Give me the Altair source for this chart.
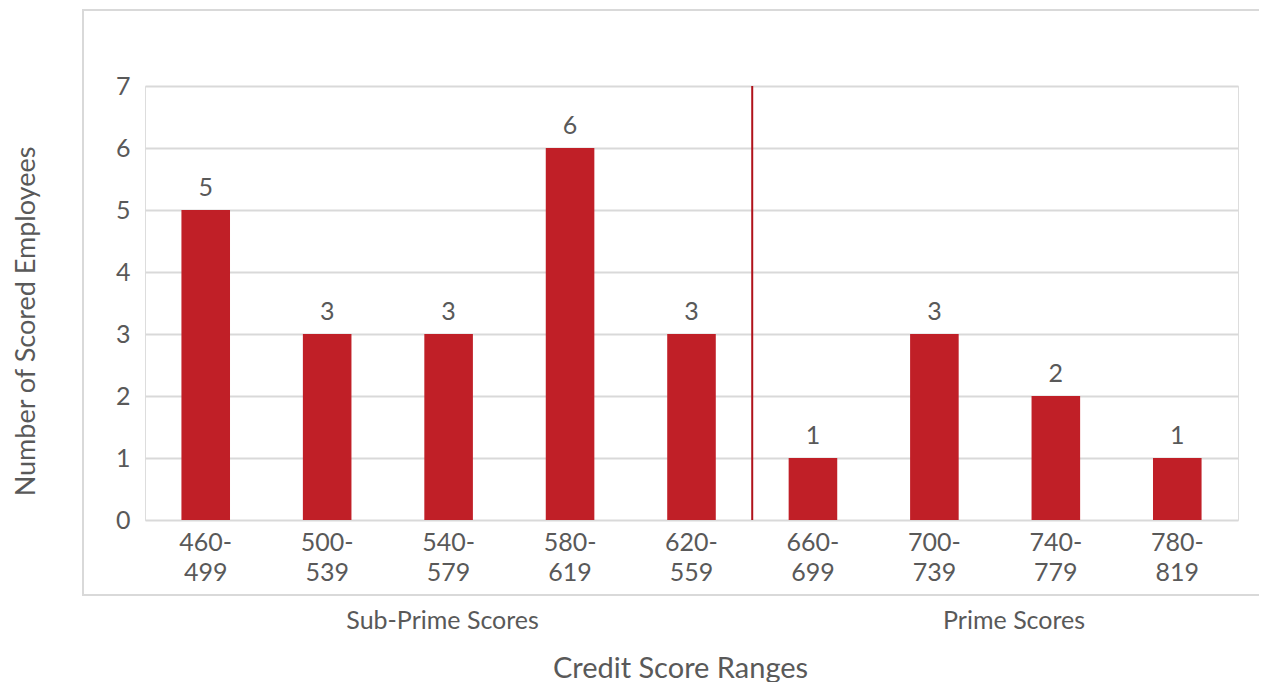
import altair as alt
import pandas as pd

ranges = ["460-499", "500-539", "540-579", "580-619", "620-559",
          "660-699", "700-739", "740-779", "780-819"]
counts = [5, 3, 3, 6, 3, 1, 3, 2, 1]
boundary = ["660-699"]
groups = ["Sub-Prime Scores", "Prime Scores"]
group_anchor = ["540-579", "740-779"]

df = pd.DataFrame({"range": ranges, "count": counts})
df_rule = pd.DataFrame({"range": boundary})

FONT = "Lato"
TXT = "#595959"
RED = "#C01F27"
FRAME = "#d9d9d9"
W, H = 1093, 434

xscale = alt.Scale(domain=ranges, paddingInner=0, paddingOuter=0)
yscale = alt.Scale(domain=[0, 7], nice=False)

x_enc = alt.X("range:N", scale=xscale, sort=ranges,
              axis=alt.Axis(title="Credit Score Ranges", labelAngle=0,
                            labelExpr="[slice(datum.label,0,4), slice(datum.label,4)]",
                            labelFontSize=25, labelColor=TXT, labelFont=FONT,
                            labelLineHeight=30, labelPadding=10, labelBaseline="top",
                            domain=False, ticks=False, grid=False,
                            titleFontSize=29, titleColor=TXT, titleFont=FONT,
                            titleFontWeight="normal", titleX=535, titleY=148,
                            titleBaseline="middle", titleAlign="center"))
y_enc = alt.Y("count:Q", scale=yscale,
              axis=alt.Axis(title="Number of Scored Employees", values=list(range(8)),
                            format="d",
                            labelFontSize=25, labelColor=TXT, labelFont=FONT,
                            labelPadding=15, domain=False, ticks=False,
                            grid=True, gridColor="#d9d9d9", gridWidth=2,
                            titleFontSize=27, titleColor=TXT, titleFont=FONT,
                            titleFontWeight="normal", titleX=-119, titleY=235,
                            titleAngle=-90, titleBaseline="middle", titleAlign="center"))

one = pd.DataFrame({"a": [0]})
frame_top = alt.Chart(one).mark_rect(color=FRAME, clip=False).encode(
    x=alt.value(-63), x2=alt.value(W + 60), y=alt.value(-77), y2=alt.value(-75))
frame_bottom = alt.Chart(one).mark_rect(color=FRAME, clip=False).encode(
    x=alt.value(-63), x2=alt.value(W + 60), y=alt.value(508), y2=alt.value(510))
frame_left = alt.Chart(one).mark_rect(color=FRAME, clip=False).encode(
    x=alt.value(-63), x2=alt.value(-61), y=alt.value(-77), y2=alt.value(510))

bars = alt.Chart(df).mark_bar(color=RED, width=alt.RelativeBandSize(0.4)).encode(
    x=x_enc, y=y_enc)

labels = alt.Chart(df).mark_text(
    baseline="bottom", dy=-9, fontSize=25, color=TXT, font=FONT
).encode(x=alt.X("range:N", scale=xscale, sort=ranges),
         y=alt.Y("count:Q", scale=yscale), text="count:Q")

rule = alt.Chart(df_rule).mark_rule(color="#B0121B", strokeWidth=2).encode(
    x=alt.X("range:N", scale=xscale, sort=ranges, bandPosition=0),
    y=alt.datum(0, scale=yscale), y2=alt.datum(7))

g1 = alt.Chart(pd.DataFrame({"range": [group_anchor[0]], "t": [groups[0]]})).mark_text(
    fontSize=25, color=TXT, font=FONT, baseline="middle", dx=-6
).encode(x=alt.X("range:N", scale=xscale, sort=ranges), y=alt.value(535), text="t:N")

g2 = alt.Chart(pd.DataFrame({"range": [group_anchor[1]], "t": [groups[1]]})).mark_text(
    fontSize=25, color=TXT, font=FONT, baseline="middle", dx=19
).encode(x=alt.X("range:N", scale=xscale, sort=ranges, bandPosition=0),
         y=alt.value(535), text="t:N")

chart = alt.layer(frame_top, frame_bottom, frame_left, bars, labels, rule, g1, g2).properties(
    width=W, height=H,
    autosize=alt.AutoSizeParams(type="none"),
    padding={"left": 137, "top": 78, "right": 21, "bottom": 162},
).configure_view(stroke=None).configure(background="white")

chart.save("out.html", embed_options={"renderer": "svg", "actions": False})
